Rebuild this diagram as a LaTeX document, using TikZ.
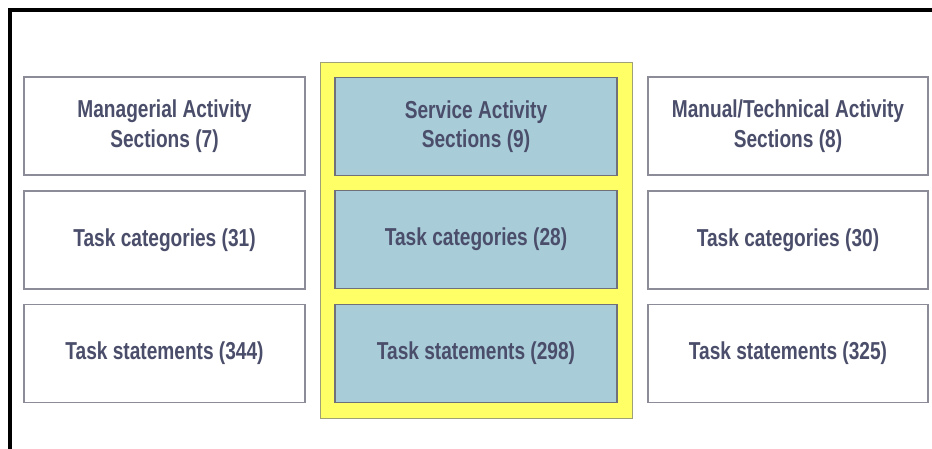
\documentclass[tikz,border=0pt]{standalone}
\usepackage{fontspec}
\setmainfont{Liberation Sans}[FakeStretch=0.78]
\definecolor{txt}{RGB}{75,78,106}
\definecolor{boxline}{RGB}{140,140,152}
\definecolor{bluefill}{RGB}{168,204,216}
\definecolor{yel}{RGB}{255,255,102}
\definecolor{yelline}{RGB}{160,160,120}
\begin{document}
\begin{tikzpicture}[x=1pt,y=-1pt,
  cell/.style={draw=boxline, line width=1.3pt, fill=white, minimum width=281pt, minimum height=98pt,
    inner sep=0pt, font=\bfseries\fontsize{24.5}{29.5}\selectfont, text=txt, align=center},
  bluecell/.style={cell, fill=bluefill, draw=boxline!80!black},
  panel/.style={draw=yelline, line width=1pt, fill=yel, minimum width=312pt, minimum height=356pt, inner sep=0pt}]
\useasboundingbox (0,0) rectangle (932,448);
\fill[white] (0,0) rectangle (932,448);
% frame
\coordinate (ftl) at (10,10);
\coordinate (ftr) at (932,10);
\coordinate (fbl) at (10,448);
\draw[line width=3.2pt, line cap=rect] (ftr) -- (ftl) -- (fbl);
% yellow panel
\node[panel] (pan) at (476,240) {};
% left column
\node[cell] (m1) at (164.5,126) {Managerial Activity\\Sections (7)};
\node[cell] (m2) at (164.5,240) {Task categories (31)};
\node[cell] (m3) at (164.5,353.5) {Task statements (344)};
% middle column
\node[bluecell, minimum width=282pt] (s1) at (476,126.5) {Service Activity\\Sections (9)};
\node[bluecell, minimum width=282pt] (s2) at (476,239.5) {Task categories (28)};
\node[bluecell, minimum width=282pt] (s3) at (476,353.5) {Task statements (298)};
% right column
\node[cell, minimum width=280pt] (t1) at (788,126) {Manual/Technical Activity\\Sections (8)};
\node[cell, minimum width=280pt] (t2) at (788,240) {Task categories (30)};
\node[cell, minimum width=280pt] (t3) at (788,353.5) {Task statements (325)};
\end{tikzpicture}
\end{document}
